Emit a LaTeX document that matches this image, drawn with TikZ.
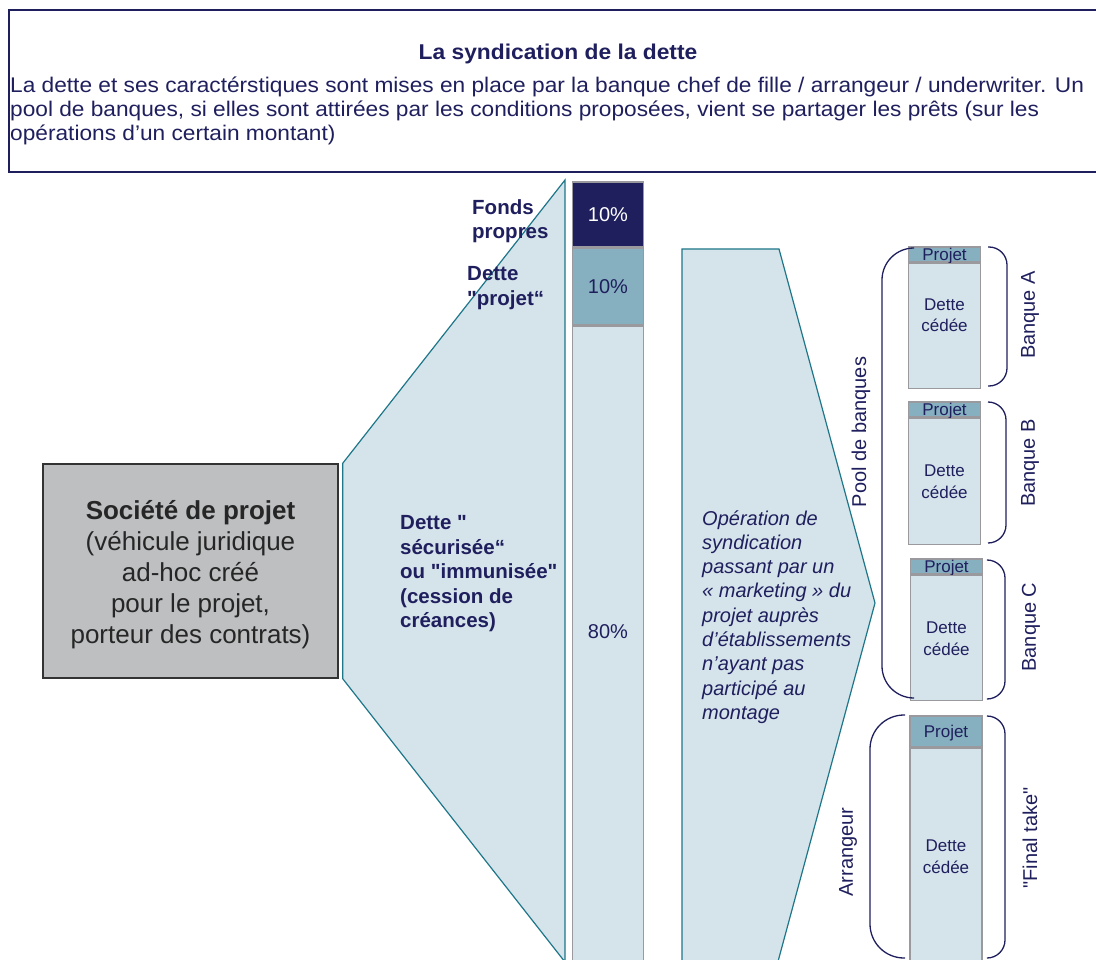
\documentclass[tikz,border=0pt]{standalone}
\usepackage{fontspec}
\setmainfont{Liberation Sans}
\usepackage{xcolor}
\usetikzlibrary{positioning,calc}

\definecolor{navy}{HTML}{1F1F5E}
\definecolor{paleblue}{HTML}{D5E3EA}
\definecolor{midblue}{HTML}{86B0BF}
\definecolor{tealline}{HTML}{1E7689}
\definecolor{boxgray}{HTML}{BEBFC1}
\definecolor{bargray}{HTML}{9A9A9E}

\newcommand{\dq}{\textquotedbl}

\begin{document}
\begin{tikzpicture}[x=1pt, y=-1pt,
    cadre/.style={draw=navy, line width=1.5pt},
    titre/.style={font=\bfseries\fontsize{21.4}{26}\selectfont\addfontfeature{FakeStretch=1.065}, text=navy, inner sep=0},
    corps/.style={font=\fontsize{21.2}{24}\selectfont\addfontfeature{FakeStretch=1.07}, text=navy, align=left, anchor=west, inner sep=0},
    societe/.style={rectangle, draw=black!80, line width=1.5pt, fill=boxgray, minimum width=295pt, minimum height=214pt, align=center, text=black!85, font=\fontsize{26}{31}\selectfont},
    wedge/.style={draw=tealline, line width=1.2pt, fill=paleblue},
    gras/.style={font=\bfseries\fontsize{20.5}{24.5}\selectfont, text=navy, align=left, anchor=west, inner sep=0},
    italique/.style={font=\itshape\fontsize{20}{24.3}\selectfont, text=navy, align=left, anchor=west, inner sep=0},
    seg/.style={rectangle, draw=bargray, line width=1.5pt, minimum width=71pt, inner sep=0, font=\fontsize{20}{24}\selectfont},
    projet/.style={rectangle, draw=bargray, line width=1.5pt, fill=midblue, minimum width=72pt, minimum height=15pt, text height=12pt, text depth=0pt, inner sep=0, text=navy, font=\fontsize{17}{17}\selectfont},
    cedee/.style={rectangle, draw=bargray, line width=1.5pt, fill=paleblue, minimum width=72pt, inner sep=0},
    cedtxt/.style={align=center, text=navy, inner sep=0, font=\fontsize{17}{21.5}\selectfont},
    brace/.style={draw=navy, line width=1.3pt},
    rot/.style={rotate=90, text=navy, inner sep=0, font=\fontsize{20}{24}\selectfont}
]
    \useasboundingbox (0,0) rectangle (1096,960);
    \clip (0,0) rectangle (1096,960);

    % Title box
    \draw[cadre] (9,10) rectangle (1110,172);
    \node[titre] (titre) at (558,53.5) {La syndication de la dette};
    \node[corps] (intro) at (10,111) {La dette et ses caractérstiques sont mises en place par la banque chef de fille / arrangeur / underwriter. Un\\
        pool de banques, si elles sont attirées par les conditions proposées, vient se partager les prêts (sur les\\
        opérations d’un certain montant)};

    % Project company
    \node[societe] (societe) at (190.5,571) {};
    \node[align=center, text=black!85, inner sep=0, font=\fontsize{26}{31}\selectfont] (soctxt) at (190.5,575) {\textbf{Société de projet}\\(véhicule juridique\\ad-hoc créé\\pour le projet,\\porteur des contrats)};

    % Debt wedges
    \draw[wedge] (societe.north east) ++(4,0) -- (565,180) -- (565,962) -- ($(societe.south east)+(4,0)$) -- cycle;
    \draw[wedge] (682,249) -- (779,249) -- (875,603) -- (773,980) -- (682,980) -- cycle;

    \node[gras] (fonds) at (472,221) {Fonds\\propres};
    \node[gras] (dprojet) at (467,288) {Dette\\\dq projet“};
    \node[gras] (dsecu) at (400,574) {Dette \dq\\sécurisée“\\ou \dq immunisée\dq\\(cession de\\créances)};
    \node[italique] (synd) at (702,617) {Opération de\\syndication\\passant par un\\« marketing » du\\projet auprès\\d’établissements\\n’ayant pas\\participé au\\montage};

    % Financing bar
    \node[seg, fill=navy, text=white, minimum height=65pt] (barfp) at (608,214.5) {10\%};
    \node[seg, fill=midblue, text=navy, minimum height=76pt, below=0pt of barfp] (bardp) {10\%};
    \node[seg, fill=paleblue, minimum height=700pt, below=0pt of bardp] (bards) {};
    \node[text=navy, inner sep=0, font=\fontsize{20}{24}\selectfont] (pct) at (608,632) {80\%};

    % Banks
    \node[projet] (projA) at (944.5,254.5) {Projet};
    \node[cedee, minimum height=125pt, below=0pt of projA] (cedA) {};
    \node[cedtxt] (txtA) at (944.5,315) {Dette\\cédée};

    \node[projet] (projB) at (944.5,409.5) {Projet};
    \node[cedee, minimum height=126pt, below=0pt of projB] (cedB) {};
    \node[cedtxt] (txtB) at (944.5,481.5) {Dette\\cédée};

    \node[projet] (projC) at (946.5,566.5) {Projet};
    \node[cedee, minimum height=125pt, below=0pt of projC] (cedC) {};
    \node[cedtxt] (txtC) at (946.5,638.5) {Dette\\cédée};

    \node[projet, minimum height=31pt, text height=12pt] (projF) at (946,731.5) {Projet};
    \node[cedee, minimum height=260pt, below=0pt of projF] (cedF) {};
    \node[cedtxt] (txtF) at (946,856.5) {Dette\\cédée};

    % Braces
    \draw[brace, rounded corners=32pt] (913,248) -- (882,248) -- (882,698) -- (913,698);
    \draw[brace, rounded corners=18pt] (988,247) -- (1007,247) -- (1007,386) -- (988,386);
    \draw[brace, rounded corners=18pt] (988,402) -- (1006,402) -- (1006,543) -- (988,543);
    \draw[brace, rounded corners=18pt] (988,560) -- (1005,560) -- (1005,699) -- (988,699);
    \draw[brace, rounded corners=18pt] (988,716) -- (1005,716) -- (1005,958) -- (988,958);
    \draw[brace, rounded corners=34pt] (905,715) -- (870,715) -- (870,958) -- (905,958);

    \node[rot] (pool) at (861,432) {Pool de banques};
    \node[rot] (arrangeur) at (848,852) {Arrangeur};
    \node[rot] (banqueA) at (1030,315) {Banque A};
    \node[rot] (banqueB) at (1030,463) {Banque B};
    \node[rot] (banqueC) at (1031,627) {Banque C};
    \node[rot] (final) at (1030,838) {\dq Final take\dq};
\end{tikzpicture}
\end{document}
